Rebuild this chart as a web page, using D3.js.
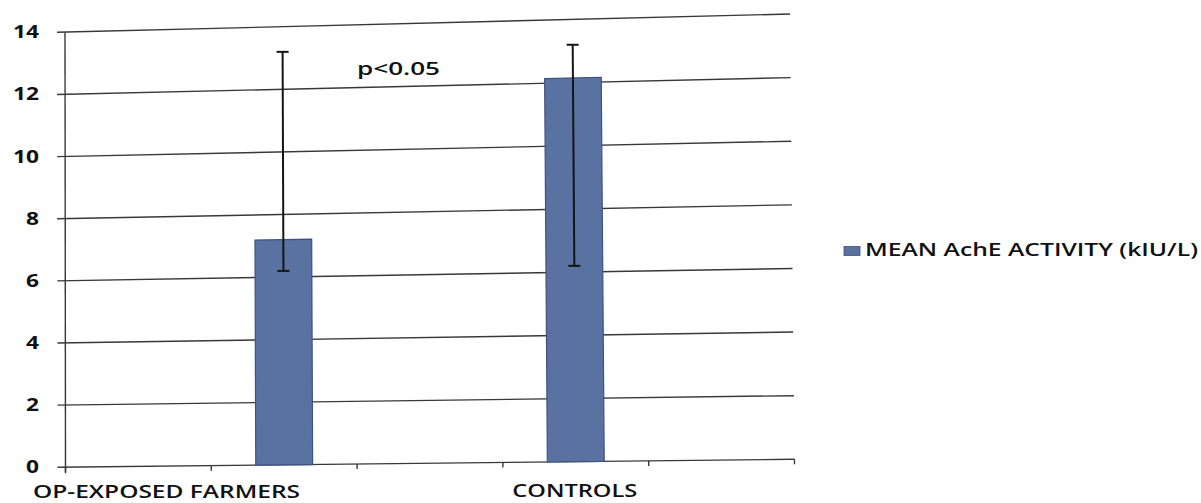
<!DOCTYPE html>
<html>
<head>
<meta charset="utf-8">
<script src="https://cdn.jsdelivr.net/npm/d3@7"></script>
<style>
  html, body { margin: 0; padding: 0; background: #ffffff; }
  svg { display: block; }
  text { font-family: "Open Sans", "Noto Sans", sans-serif; fill: #111111; }
</style>
</head>
<body>
<svg id="chart" width="1201" height="503"></svg>
<script>
// ---- data ----
const slots = ["slot1", "OP-EXPOSED FARMERS", "slot3", "CONTROLS", "slot5"];
const categories = ["OP-EXPOSED FARMERS", "CONTROLS"];
const meanValues = [7.2, 12.15];
const errLower = [6.2, 6.2];
const errUpper = [13.2, 13.2];
const yTicks = [0, 2, 4, 6, 8, 10, 12, 14];
const seriesName = "MEAN AchE ACTIVITY (kIU/L)";
const annotation = "p<0.05";

// ---- layout (scanned page is slightly keystoned: plot corners) ----
const BL = [65.5, 467.3], BR = [794.5, 459.3], TL = [65, 32.3], TR = [790, 14];
function warp(u, t) {
  return [
    (1-u)*(1-t)*BL[0] + u*(1-t)*BR[0] + (1-u)*t*TL[0] + u*t*TR[0],
    (1-u)*(1-t)*BL[1] + u*(1-t)*BR[1] + (1-u)*t*TL[1] + u*t*TR[1]
  ];
}

const x = d3.scaleBand().domain(slots).range([0, 1]).paddingInner(0.61).paddingOuter(0.305);
const y = d3.scaleLinear().domain([0, 14]).range([0, 1]);

const svg = d3.select("#chart");
const lineCol = "#383838";

// gridlines
svg.append("g").selectAll("line").data(yTicks).join("line")
  .attr("x1", d => warp(0, y(d))[0] - 8).attr("y1", d => warp(0, y(d))[1])
  .attr("x2", d => warp(1, y(d))[0]).attr("y2", d => warp(1, y(d))[1])
  .attr("stroke", lineCol).attr("stroke-width", 1.4);

// y axis line
svg.append("line")
  .attr("x1", warp(0, 0)[0]).attr("y1", warp(0, 0)[1] + 6)
  .attr("x2", warp(0, 1)[0]).attr("y2", warp(0, 1)[1])
  .attr("stroke", lineCol).attr("stroke-width", 1.4);

// x axis ticks at category boundaries
const bounds = d3.range(slots.length + 1).map(i => i * x.step());
svg.append("g").selectAll("line").data(bounds).join("line")
  .attr("x1", d => warp(d, 0)[0]).attr("y1", d => warp(d, 0)[1])
  .attr("x2", d => warp(d, 0)[0]).attr("y2", d => warp(d, 0)[1] + 5)
  .attr("stroke", lineCol).attr("stroke-width", 1.4);

// y tick labels
svg.append("g").selectAll("text").data(yTicks).join("text")
  .attr("x", 39).attr("y", d => warp(0, y(d))[1] + 6)
  .attr("text-anchor", "end")
  .attr("font-size", 17).attr("font-weight", 700)
  .attr("textLength", d => String(d).length * 13)
  .attr("lengthAdjust", "spacingAndGlyphs")
  .text(d => d);

// bars
const barData = categories.map((c, i) => ({c, v: meanValues[i], lo: errLower[i], hi: errUpper[i]}));
svg.append("g").selectAll("path").data(barData).join("path")
  .attr("d", d => {
    const u0 = x(d.c), u1 = x(d.c) + x.bandwidth(), t = y(d.v);
    return "M" + [warp(u0, 0), warp(u1, 0), warp(u1, t), warp(u0, t)].map(p => p.join(",")).join("L") + "Z";
  })
  .attr("fill", "#5a72a2").attr("stroke", "#3e5281").attr("stroke-width", 1.2);

// error bars
const eb = svg.append("g").selectAll("g").data(barData).join("g");
const mid = d => x(d.c) + x.bandwidth() / 2;
eb.append("line")
  .attr("x1", d => warp(mid(d), y(d.lo))[0]).attr("y1", d => warp(mid(d), y(d.lo))[1])
  .attr("x2", d => warp(mid(d), y(d.hi))[0]).attr("y2", d => warp(mid(d), y(d.hi))[1])
  .attr("stroke", "#151515").attr("stroke-width", 2);
["lo", "hi"].forEach(k => {
  eb.append("line")
    .attr("x1", d => warp(mid(d), y(d[k]))[0] - 6).attr("y1", d => warp(mid(d), y(d[k]))[1])
    .attr("x2", d => warp(mid(d), y(d[k]))[0] + 6).attr("y2", d => warp(mid(d), y(d[k]))[1])
    .attr("stroke", "#151515").attr("stroke-width", 2);
});

// category labels
svg.append("text").attr("x", 33).attr("y", 497.5)
  .attr("font-size", 17.5).attr("font-weight", 600)
  .attr("textLength", 267).attr("lengthAdjust", "spacingAndGlyphs")
  .text(categories[0]);
svg.append("text").attr("x", warp(mid(barData[1]), 0)[0] - 1).attr("y", 497)
  .attr("text-anchor", "middle")
  .attr("font-size", 18.5).attr("font-weight", 600)
  .attr("textLength", 125).attr("lengthAdjust", "spacingAndGlyphs")
  .text(categories[1]);

// annotation
svg.append("text").attr("x", 357).attr("y", 75)
  .attr("font-size", 18).attr("font-weight", 600)
  .attr("textLength", 83).attr("lengthAdjust", "spacingAndGlyphs")
  .text(annotation);

// legend
svg.append("rect").attr("x", 844).attr("y", 246.5).attr("width", 16).attr("height", 9)
  .attr("fill", "#5a72a2").attr("stroke", "#3e5281").attr("stroke-width", 0.8);
svg.append("text").attr("x", 865).attr("y", 255.5)
  .attr("font-size", 17.5).attr("font-weight", 600)
  .attr("textLength", 333).attr("lengthAdjust", "spacingAndGlyphs")
  .text(seriesName);
</script>
</body>
</html>
